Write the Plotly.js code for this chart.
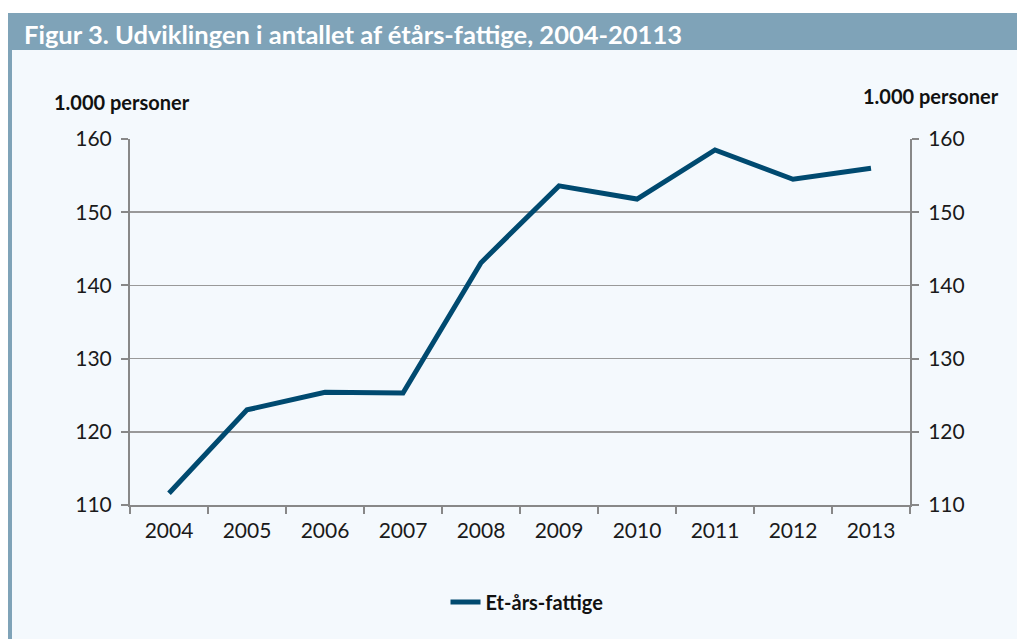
<!DOCTYPE html>
<html><head><meta charset="utf-8">
<script src="https://cdn.plot.ly/plotly-3.0.1.min.js"></script>
<style>html,body{margin:0;padding:0;background:#fff}#c{width:1017px;height:639px}</style>
</head><body><div id="c"></div>
<script>
const years = ['2004','2005','2006','2007','2008','2009','2010','2011','2012','2013'];
const values = [111.6, 123.0, 125.4, 125.3, 143.1, 153.6, 151.8, 158.5, 154.5, 156.0];
const seriesName = 'Et-års-fattige';
const yTicks = [110, 120, 130, 140, 150, 160];

const W = 1017, H = 639, L = 130, R = 910, T = 139, B = 505;
const px = x => (x - L) / (R - L);
const py = y => (B - y) / (B - T);
const font = 'Lato, "Open Sans", sans-serif';

const traces = [
  {x: years, y: values, type: 'scatter', mode: 'lines', name: seriesName,
   line: {color: '#004a70', width: 5}, hoverinfo: 'skip'},
  {x: years, y: values, type: 'scatter', mode: 'lines', yaxis: 'y2', showlegend: false,
   line: {color: 'rgba(0,0,0,0)', width: 0}, hoverinfo: 'skip'}
];

const axisY = {
  range: [110, 160], tickvals: yTicks, ticks: 'outside', ticklen: 7, tickcolor: '#888', tickwidth: 2,
  showline: true, linecolor: '#888', linewidth: 2, showgrid: true, gridcolor: '#999', gridwidth: 1.5,
  zeroline: false, tickfont: {family: font, size: 21, color: '#1a1a1a'}, fixedrange: true,
  ticklabelstandoff: 5
};

const layout = {
  width: W, height: H,
  margin: {l: L, r: W - R, t: T, b: H - B},
  paper_bgcolor: '#ffffff', plot_bgcolor: 'rgba(0,0,0,0)',
  showlegend: true,
  legend: {orientation: 'h', x: px(527), xanchor: 'center', y: py(602), yanchor: 'middle',
           font: {family: font, size: 20, color: '#111', weight: 'bold'}, bgcolor: 'rgba(0,0,0,0)'},
  xaxis: {type: 'category', tickson: 'boundaries', ticks: 'outside', ticklen: 7, tickcolor: '#888',
          tickwidth: 2, showline: true, linecolor: '#888', linewidth: 2, showgrid: false,
          tickfont: {family: font, size: 21, color: '#1a1a1a'}, fixedrange: true, range: [-0.5, 9.5],
          ticklabelstandoff: 6},
  yaxis: Object.assign({}, axisY, {side: 'left'}),
  yaxis2: Object.assign({}, axisY, {side: 'right', overlaying: 'y', showgrid: false}),
  shapes: [
    {type: 'rect', xref: 'paper', yref: 'paper', layer: 'below', x0: px(8), x1: px(W), y0: py(50), y1: py(H),
     fillcolor: '#f4f9fd', line: {width: 0}},
    {type: 'rect', xref: 'paper', yref: 'paper', layer: 'below', x0: px(8), x1: px(W), y0: py(13), y1: py(50),
     fillcolor: '#7fa3b8', line: {width: 0}},
    {type: 'rect', xref: 'paper', yref: 'paper', layer: 'below', x0: px(8), x1: px(12), y0: py(50), y1: py(H),
     fillcolor: '#7fa3b8', line: {width: 0}}
  ],
  annotations: [
    {text: 'Figur 3. Udviklingen i antallet af étårs-fattige, 2004-20113', xref: 'paper', yref: 'paper',
     x: px(22), y: py(34), xanchor: 'left', yanchor: 'middle', showarrow: false,
     font: {family: font, size: 25.5, color: '#ffffff', weight: 'bold'}},
    {text: '1.000 personer', xref: 'paper', yref: 'paper', x: px(52), y: py(102), xanchor: 'left', yanchor: 'middle',
     showarrow: false, font: {family: font, size: 20, color: '#111', weight: 'bold'}},
    {text: '1.000 personer', xref: 'paper', yref: 'paper', x: px(1001), y: py(96), xanchor: 'right', yanchor: 'middle',
     showarrow: false, font: {family: font, size: 20, color: '#111', weight: 'bold'}}
  ]
};

Plotly.newPlot('c', traces, layout, {displayModeBar: false, staticPlot: true});
</script></body></html>
